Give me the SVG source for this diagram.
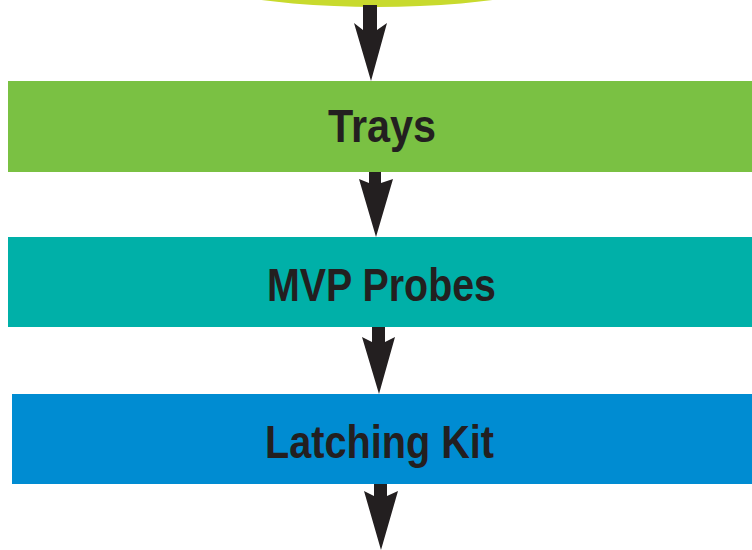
<svg xmlns="http://www.w3.org/2000/svg" width="752" height="550" viewBox="0 0 752 550">
<style>
.lbl{font-family:"Liberation Sans","Arial",sans-serif;font-weight:bold;font-size:46px;fill:#231f20}
.arr{fill:#231f20}
</style>
<rect width="752" height="550" fill="#ffffff"/>
<g id="start">
<ellipse cx="377" cy="-40" rx="220" ry="47" fill="#c8da2e"/>
</g>
<g id="trays">
<rect x="8" y="81" width="744" height="91" fill="#7ac143"/>
<text class="lbl" x="328" y="142" textLength="108" lengthAdjust="spacingAndGlyphs">Trays</text>
</g>
<g id="mvp-probes">
<rect x="8" y="237" width="744" height="90" fill="#00b0a8"/>
<text class="lbl" x="267" y="301" textLength="229" lengthAdjust="spacingAndGlyphs">MVP Probes</text>
</g>
<g id="latching-kit">
<rect x="12" y="394" width="740" height="90" fill="#008cd2"/>
<text class="lbl" x="265" y="458" textLength="229" lengthAdjust="spacingAndGlyphs">Latching Kit</text>
</g>
<g id="connectors">
<polygon class="arr" points="363,5 377,5 377,30 387,23 371,81 354,23 363,30"/>
<polygon class="arr" points="369,172 381,172 381,183 393,179 376,237 359,179 369,183"/>
<polygon class="arr" points="372,327 385,327 385,342 395,337 379,394 362,337 372,342"/>
<polygon class="arr" points="374,484 387,484 387,496 398,491 381,550 364,491 374,496"/>
</g>
</svg>
